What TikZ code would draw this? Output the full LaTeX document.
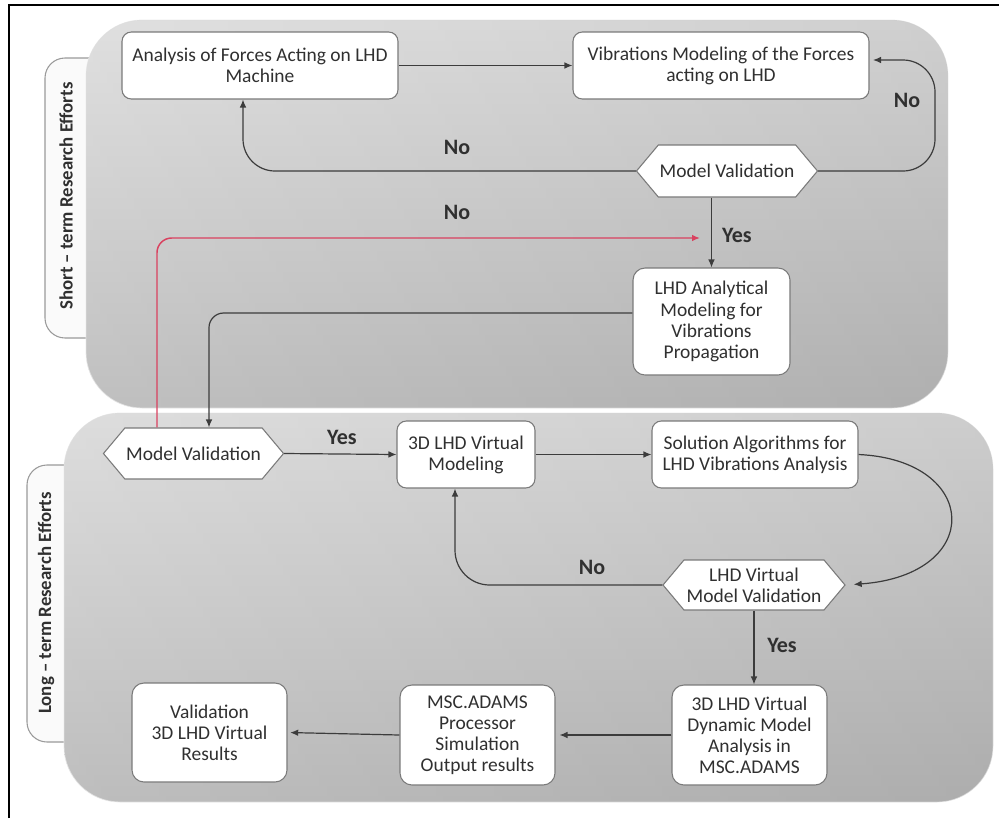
\documentclass[tikz,border=0pt]{standalone}
\usepackage{fontspec}
\setmainfont{Carlito}
\usetikzlibrary{shapes.symbols,arrows.meta,calc}
\definecolor{boxline}{HTML}{7A7A7A}
\definecolor{connc}{HTML}{3C3C3C}
\definecolor{redln}{HTML}{D9415F}
\definecolor{txt}{HTML}{303030}
\definecolor{tabline}{HTML}{9A9A9A}
\begin{document}
\begin{tikzpicture}[x=0.75pt,y=-0.75pt,
  box/.style 2 args={draw=boxline, fill=white, rounded corners=7pt, line width=0.8pt,
    minimum width=#1*0.75pt, minimum height=#2*0.75pt, inner sep=1pt, align=center,
    font=\fontsize{14.6}{15.8}\selectfont, text=txt},
  hexa/.style 2 args={signal, signal to=west and east, signal pointer angle=100,
    draw=boxline, fill=white, line width=0.8pt,
    minimum width=#1*0.75pt, minimum height=#2*0.75pt, inner sep=1pt, align=center,
    font=\fontsize{14.6}{15.8}\selectfont, text=txt},
  conn/.style={draw=connc, line width=0.9pt, -{Latex[length=6pt,width=5pt]}},
  redconn/.style={draw=redln, line width=1.1pt, -{Latex[length=6pt,width=5pt]}},
  lbl/.style={font=\fontsize{16.5}{18}\selectfont\bfseries, text=txt},
  tab/.style={draw=tabline, fill=white!96!gray, line width=0.8pt},
  tabtxt/.style={rotate=90, font=\fontsize{14.1}{16}\selectfont\bfseries, text=txt},
  panel/.style={draw=white!85!gray, line width=0.6pt, rounded corners=42pt},
  sideshade/.style={rounded corners=42pt, left color=black!50, middle color=white, right color=black, opacity=0.13}
]
\useasboundingbox (0,0) rectangle (999,818);
% outer frame (cropped)
\draw[black, line width=1.5pt] (9,818) -- (9,5) -- (999,5);

% side tabs
\draw[tab, rounded corners=15pt] (95,58) -- (45,58) -- (45,338) -- (95,338);
\draw[tab, rounded corners=15pt] (75,465) -- (27,465) -- (27,742) -- (75,742);
\node[tabtxt] (tabS) at (66,196) {Short -- term Research Efforts};
\node[tabtxt] (tabL) at (46,603) {Long -- term Research Efforts};

% panels
\draw[panel, top color=gray!13, bottom color=gray!42] (86,20) rectangle (948,408);
\shade[sideshade] (86,20) rectangle (948,408);
\draw[panel, top color=gray!15, bottom color=gray!44] (64,413) rectangle (993,802);
\shade[sideshade] (64,413) rectangle (993,802);

% nodes top
\node[box={276}{67}] (A1) at (260,65.5) {Analysis of Forces Acting on LHD\\Machine};
\node[box={296}{67}] (A2) at (721,65.5) {Vibrations Modeling of the Forces\\acting on LHD};
\node[hexa={181}{52}] (D1) at (727,171) {Model Validation};
\node[box={157}{107}, rounded corners=9pt] (A3) at (711.5,321.5) {LHD Analytical\\Modeling for\\Vibrations\\Propagation};

% nodes bottom
\node[hexa={177}{51}] (D2) at (193.5,453.5) {Model Validation};
\node[box={138}{67}] (B1) at (466,454.5) {3D LHD Virtual\\Modeling};
\node[box={206}{67}] (B2) at (755,454.5) {Solution Algorithms for\\LHD Vibrations Analysis};
\node[hexa={182}{50}] (D3) at (754,585) {LHD Virtual\\Model Validation};
\node[box={155}{100}, rounded corners=9pt] (B3) at (749.5,735) {3D LHD Virtual\\Dynamic Model\\Analysis in\\MSC.ADAMS};
\node[box={155}{100}, rounded corners=9pt] (B4) at (477.5,735) {MSC.ADAMS\\Processor\\Simulation\\Output results};
\node[box={155}{99}, rounded corners=9pt] (B5) at (209.5,732.5) {Validation\\3D LHD Virtual\\Results};

% helper coordinates
\coordinate (redEnd) at (700,238);
\coordinate (loopTop) at (873,60);

% connectors top
\draw[conn] (A1.east) -- (A2.west);
\draw[conn, rounded corners=24pt] (D1.west) -| (243,0 |- A1.south);
\draw[conn, rounded corners=24pt] (D1.east) -- (935,171) -- (935,60) -- (loopTop);
\draw[conn] (A3.north |- D1.south) -- (A3.north);
\draw[redconn, rounded corners=11pt] (157,0 |- D2.north) |- (redEnd);
\draw[conn, rounded corners=11pt] (A3.west |- 0,313) -| (209,0 |- D2.north);

% connectors bottom
\draw[conn] (D2.east) -- (B1.west);
\draw[conn] (B1.east) -- (B2.west);
\draw[conn, shorten >=6pt] (B2.east) .. controls (980,460) and (985,575) .. (D3.east);
\draw[conn, rounded corners=26pt] (D3.west) -| (455,0 |- B1.south);
\draw[conn] (D3.south) -- (D3.south |- B3.north);
\draw[conn, shorten >=3pt] (B3.west) -- (B4.east);
\draw[conn, shorten >=2pt] (B4.west) -- (B5.east);

% labels
\node[lbl] (l1) at (457,147) {No};
\node[lbl] (l2) at (457,212) {No};
\node[lbl] (l3) at (907,100) {No};
\node[lbl] (l4) at (737,235) {Yes};
\node[lbl] (l5) at (342,437) {Yes};
\node[lbl] (l6) at (592,567) {No};
\node[lbl] (l7) at (782,645) {Yes};
\end{tikzpicture}
\end{document}
